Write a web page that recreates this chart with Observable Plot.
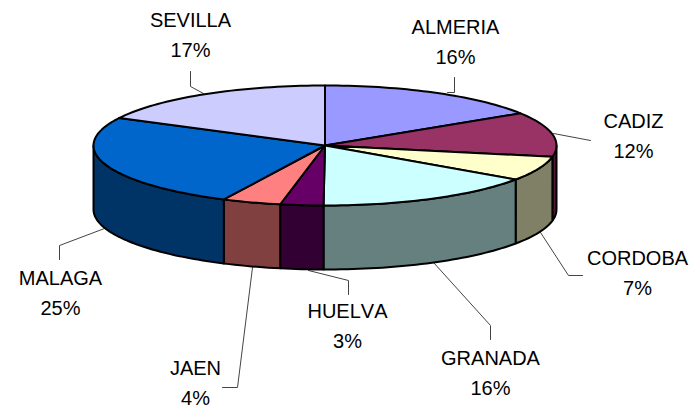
<!DOCTYPE html>
<html>
<head>
<meta charset="utf-8">
<script src="https://cdn.jsdelivr.net/npm/d3@7"></script>
<script src="https://cdn.jsdelivr.net/npm/@observablehq/plot@0.6"></script>
<style>html,body{margin:0;padding:0;background:#fff}svg{display:block}svg text{font-kerning:none}</style>
</head>
<body>
<div id="chart"></div>
<script>
const provinces = ["ALMERIA","CADIZ","CORDOBA","GRANADA","HUELVA","JAEN","MALAGA","SEVILLA"];
const shares = [16, 12, 6.6, 15.5, 3, 4.1, 25.4, 17.4];
const topColors = ["#9999FF","#993366","#FFFFCC","#CCFFFF","#660066","#FF8080","#0066CC","#CCCCFF"];
const wallColors = ["#4D4D80","#4D1A33","#808066","#668080","#330033","#804040","#003366","#666680"];

// Pie layout (in picture units)
const cx = 324.5, cy = 145, rx = 231.5, ry = 60, depth = 64;
// Label anchors and leader paths, by province
const labelX = [455, 633, 637, 490, 347, 195, 60, 190];
const labelY = [27, 121, 258, 358, 311, 368, 278, 20];
const leaderPaths = [
  [[447,92],[454,92],[454,77]],
  [[553,133],[590,140]],
  [[540,232],[568,275],[582,275]],
  [[433,262],[490,325],[490,339]],
  [[308,270],[348,280],[348,294]],
  [[252,267],[237,387],[222,387]],
  [[104,228],[59,245],[59,259]],
  [[203,93],[190,86],[190,71]]
];

const rad = d => d * Math.PI / 180;
const pt = (deg, dy = 0) => ({x: cx + rx * Math.sin(rad(deg)), y: cy - ry * Math.cos(rad(deg)) + dy});
const arc = (a, b) => {
  const n = Math.max(2, Math.ceil((b - a) / 1.5));
  return d3.range(n + 1).map(i => a + (b - a) * i / n);
};

const total = d3.sum(shares);
const ends = d3.cumsum(shares).map(v => v / total * 360);
const slices = provinces.map((name, i) => ({name, i, a: i ? ends[i - 1] : 0, b: ends[i]}));

const topPoly = [], wallPoly = [];
for (const s of slices) {
  const top = [{x: cx, y: cy}, ...arc(s.a, s.b).map(d => pt(d))];
  top.forEach(p => topPoly.push({...p, key: s.name, color: topColors[s.i]}));
  const a = Math.max(s.a, 90), b = Math.min(s.b, 270);
  if (b > a) {
    const angles = arc(a, b);
    const wall = [...angles.map(d => pt(d)), ...angles.slice().reverse().map(d => pt(d, depth))];
    wall.forEach(p => wallPoly.push({...p, key: s.name, color: wallColors[s.i]}));
  }
}

const leaders = leaderPaths.flatMap((path, i) => path.map(([x, y]) => ({x, y, key: provinces[i]})));
const labels = provinces.map((name, i) => ({
  text: `${name}\n${Math.round(shares[i])}%`, x: labelX[i], y: labelY[i] + 12
}));

const chart = Plot.plot({
  width: 693, height: 408,
  margin: 0,
  x: {domain: [0, 693], range: [0, 693], axis: null},
  y: {domain: [0, 408], range: [0, 408], axis: null},
  style: {background: "#fff", fontFamily: "'Liberation Sans', Arial, sans-serif"},
  marks: [
    Plot.line(leaders, {x: "x", y: "y", z: "key", stroke: "#444", strokeWidth: 1, curve: "linear"}),
    Plot.line(wallPoly, {x: "x", y: "y", z: "key", fill: "color", stroke: "#000", strokeWidth: 2, strokeLinejoin: "round", curve: "linear-closed"}),
    Plot.line(topPoly, {x: "x", y: "y", z: "key", fill: "color", stroke: "#000", strokeWidth: 2, strokeLinejoin: "round", curve: "linear-closed"}),
    Plot.text(labels, {x: "x", y: "y", text: "text", fontSize: 20, lineHeight: 1.5, fill: "#000", textAnchor: "middle", lineAnchor: "middle"})
  ]
});
document.getElementById("chart").appendChild(chart);
</script>
</body>
</html>
